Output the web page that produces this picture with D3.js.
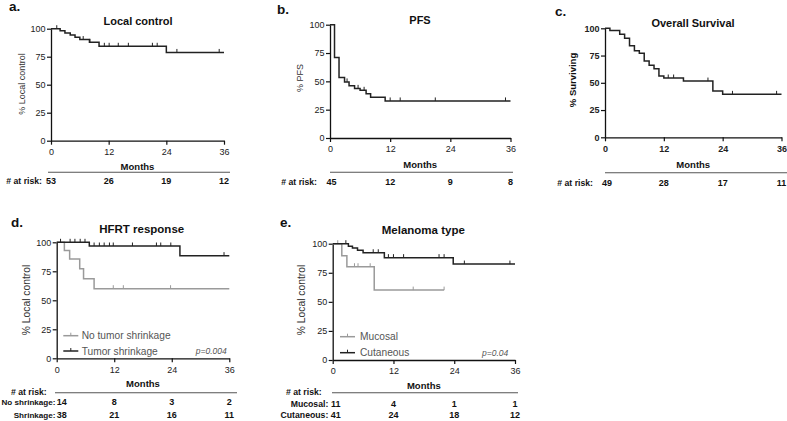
<!DOCTYPE html>
<html><head><meta charset="utf-8">
<script src="https://cdn.jsdelivr.net/npm/d3@7"></script>
<style>
body{margin:0;background:#fff;}
svg{display:block;font-family:"Liberation Sans",Arial,sans-serif;}
</style></head><body>
<svg id="chart" width="787" height="421"></svg>
<script>
// ---------- data ----------
const monthTicks = [0, 12, 24, 36];
const pctTicks = [0, 25, 50, 75, 100];

// a. Local control
const aTimes = [0, 1.9, 2.9, 4, 5, 6, 8, 10, 24];
const aSurv  = [100, 98.1, 96.2, 94.3, 92.4, 90.3, 87.8, 84.3, 78.8];
const aCens  = [1.2, 6.7, 8.1, 11.1, 12.1, 14, 16.1, 21.1, 22.1, 26.2, 35];
const aRisk  = [53, 26, 19, 12];

// b. PFS
const bTimes = [0, 0.9, 1.8, 2.9, 3.8, 4.9, 6, 7.2, 8.1, 11];
const bSurv  = [100, 71, 53.5, 49.5, 46.2, 43.8, 42.1, 39, 35.9, 32.7];
const bCens  = [3.4, 5.6, 6.8, 12, 14, 21, 35];
const bRisk  = [45, 12, 9, 8];

// c. Overall Survival
const cTimes = [0, 1, 3, 4, 5, 6, 7, 8, 9, 10, 11, 12, 16, 22, 24];
const cSurv  = [100, 98, 94.5, 90.8, 84, 79.4, 77, 70, 66, 63, 56.2, 54.4, 51.6, 42.5, 39.4];
const cCens  = [12.9, 14, 21, 26, 35];
const cRisk  = [49, 28, 17, 11];

// d. HFRT response
const dShrTimes = [0, 6.8, 25.7];
const dShrSurv  = [100, 96.8, 88.5];
const dShrCens  = [0.8, 2.8, 3.8, 4.9, 5.9, 7.8, 8.9, 9.9, 11, 11.8, 15.8, 20.8, 21.7, 23.8, 34.9];
const dNoTimes  = [0, 1.6, 2.7, 4.8, 5.6, 7.8];
const dNoSurv   = [100, 92.9, 85.7, 77.1, 68.6, 60];
const dNoCens   = [11.8, 13.9, 23.75];
const dNoRisk   = [14, 8, 3, 2];
const dShrRisk  = [38, 21, 16, 11];

// e. Melanoma type
const eCutTimes = [0, 3.1, 3.9, 4.9, 6, 10.2, 23.8];
const eCutSurv  = [100, 97.8, 96.4, 94.4, 92.2, 88, 82.5];
const eCutCens  = [2.6, 8, 9, 11, 12, 14, 21, 22, 26, 35];
const eMucTimes = [0, 1.8, 2.8, 8.2];
const eMucSurv  = [100, 89.6, 80.2, 60.1];
const eMucCens  = [1, 4.3, 5, 7.4, 15.9, 22];
const eMucRisk  = [11, 4, 1, 1];
const eCutRisk  = [41, 24, 18, 12];

// ---------- drawing ----------
const BLACK = "#222", GRAY = "#9a9a9a", TXT = "#222";
const svg = d3.select("#chart");

const panels = [
  {label:"a.", lx:9, ly:11, title:"Local control", tx:138, ty:25, ts:11,
   x0:51, x1:224, yT:28.7, yB:140.7, ylab:"% Local control", ylx:21.7, yly:84, yls:9, ylb:false, tb:false,
   monthsY:169.5, lineY:172.3, lineX:[48,230], rlX:42, rlY:184.3, firstOff:0, rowLabelX:null,
   rows:[{label:null, values:aRisk, y:184.3}],
   series:[{times:aTimes, surv:aSurv, cens:aCens, end:36, color:BLACK}]},
  {label:"b.", lx:277, ly:14, title:"PFS", tx:420, ty:24, ts:11,
   x0:330, x1:510.5, yT:24.7, yB:138, ylab:"% PFS", ylx:300, yly:78, yls:9, ylb:false, tb:false,
   monthsY:167.5, lineY:172.3, lineX:[330,513], rlX:317, rlY:185, firstOff:1.5, rowLabelX:null,
   rows:[{label:null, values:bRisk, y:185}],
   series:[{times:bTimes, surv:bSurv, cens:bCens, end:36, color:BLACK}]},
  {label:"c.", lx:555, ly:16, title:"Overall Survival", tx:693, ty:27, ts:11,
   x0:605, x1:781.5, yT:28.3, yB:137.3, ylab:"% Surviving", ylx:573, yly:80, yls:9.5, ylb:true, tb:true,
   monthsY:167.5, lineY:172.7, lineX:[605,787], rlX:593, rlY:185.6, firstOff:2, rowLabelX:null,
   rows:[{label:null, values:cRisk, y:185.6}],
   series:[{times:cTimes, surv:cSurv, cens:cCens, end:36, color:BLACK}]},
  {label:"d.", lx:11, ly:227, title:"HFRT response", tx:141.7, ty:232.5, ts:11.5,
   x0:56.7, x1:229.3, yT:242.3, yB:358.3, ylab:"% Local control", ylx:26.7, yly:300, yls:10.3, ylb:false, tb:false,
   monthsY:386.7, lineY:392.7, lineX:[55,237], rlX:46.7, rlY:395, firstOff:5, rowLabelX:55.5, rowSize:8.1,
   rows:[{label:"No shrinkage:", values:dNoRisk, y:405},{label:"Shrinkage:", values:dShrRisk, y:418.3}],
   series:[{times:dNoTimes, surv:dNoSurv, cens:dNoCens, end:36, color:GRAY},
           {times:dShrTimes, surv:dShrSurv, cens:dShrCens, end:36, color:BLACK}],
   legend:{lx:[63.3,78.3], tx:81.7, items:[{text:"No tumor shrinkage", color:GRAY, y:335.7},{text:"Tumor shrinkage", color:BLACK, y:351}]},
   p:{text:"p=0.004", x:226.7, y:351}},
  {label:"e.", lx:280, ly:227, title:"Melanoma type", tx:423.3, ty:234, ts:11.5,
   x0:332.7, x1:515, yT:243.7, yB:360, ylab:"% Local control", ylx:301.7, yly:300, yls:10.3, ylb:false, tb:false,
   monthsY:389, lineY:392.7, lineX:[332,518], rlX:321.7, rlY:395, firstOff:3, rowLabelX:328.3, rowSize:8.7,
   rows:[{label:"Mucosal:", values:eMucRisk, y:406.6},{label:"Cutaneous:", values:eCutRisk, y:418.3}],
   series:[{times:eMucTimes, surv:eMucSurv, cens:eMucCens, end:22, color:GRAY},
           {times:eCutTimes, surv:eCutSurv, cens:eCutCens, end:36, color:BLACK}],
   legend:{lx:[340,355], tx:360, items:[{text:"Mucosal", color:GRAY, y:336.7},{text:"Cutaneous", color:BLACK, y:352.7}]},
   p:{text:"p=0.04", x:508.3, y:352.7}}
];

function survAt(times, surv, t){
  let v = surv[0];
  for (let i=0;i<times.length;i++){ if (times[i] <= t) v = surv[i]; }
  return v;
}

panels.forEach(P => {
  const g = svg.append("g");
  const x = d3.scaleLinear().domain([0,36]).range([P.x0, P.x1]);
  const y = d3.scaleLinear().domain([0,100]).range([P.yB, P.yT]);

  // panel letter
  g.append("text").attr("x",P.lx).attr("y",P.ly).attr("font-size",13.5).attr("font-weight","bold").attr("fill","#111").text(P.label);
  // title
  g.append("text").attr("x",P.tx).attr("y",P.ty).attr("text-anchor","middle").attr("font-size",P.ts).attr("font-weight","bold").attr("fill","#111").text(P.title);

  // axes
  const xa = g.append("g").attr("transform",`translate(0,${P.yB})`)
    .call(d3.axisBottom(x).tickValues(monthTicks).tickSize(4).tickPadding(4).tickSizeOuter(0));
  const ya = g.append("g").attr("transform",`translate(${P.x0},0)`)
    .call(d3.axisLeft(y).tickValues(pctTicks).tickSize(4).tickPadding(1.5).tickSizeOuter(0));
  [xa, ya].forEach(a => {
    a.select(".domain").attr("stroke","#111").attr("stroke-width",1.3);
    a.selectAll(".tick line").attr("stroke","#111").attr("stroke-width",1.2);
    a.selectAll(".tick text").attr("font-size",9).attr("fill",TXT).attr("font-weight",P.tb?"bold":"normal")
      .attr("font-family","Liberation Sans, Arial, sans-serif");
  });

  // y label
  g.append("text").attr("transform",`translate(${P.ylx},${P.yly}) rotate(-90)`)
    .attr("text-anchor","middle").attr("dy","0.35em").attr("font-size",P.yls)
    .attr("font-weight",P.ylb?"bold":"normal").attr("fill",P.ylb?"#111":"#333").text(P.ylab);

  // Months
  g.append("text").attr("x",(P.x0+P.x1)/2).attr("y",P.monthsY).attr("text-anchor","middle")
    .attr("font-size",9.5).attr("font-weight","bold").attr("fill","#111").text("Months");
  // risk line
  g.append("line").attr("x1",P.lineX[0]).attr("x2",P.lineX[1]).attr("y1",P.lineY).attr("y2",P.lineY)
    .attr("stroke","#555").attr("stroke-width",1.1);
  g.append("text").attr("x",P.rlX).attr("y",P.rlY).attr("text-anchor","end")
    .attr("font-size",8.7).attr("font-weight","bold").attr("fill","#111").text("# at risk:");
  P.rows.forEach(r => {
    if (r.label) g.append("text").attr("x",P.rowLabelX).attr("y",r.y).attr("text-anchor","end")
      .attr("font-size",P.rowSize).attr("font-weight","bold").attr("fill","#111").text(r.label);
    g.selectAll(null).data(r.values).enter().append("text")
      .attr("x",(d,i)=>x(monthTicks[i]) + (i===0?P.firstOff:0)).attr("y",r.y).attr("text-anchor","middle")
      .attr("font-size",9).attr("font-weight","bold").attr("fill","#111").text(d=>d);
  });

  // curves
  const line = d3.line().x(d=>x(d[0])).y(d=>y(d[1])).curve(d3.curveStepAfter);
  P.series.forEach(s => {
    const pts = s.times.map((t,i)=>[t, s.surv[i]]);
    pts.push([s.end, s.surv[s.surv.length-1]]);
    g.append("path").attr("d",line(pts)).attr("fill","none").attr("stroke",s.color).attr("stroke-width",1.5);
    g.selectAll(null).data(s.cens).enter().append("line")
      .attr("x1",d=>x(d)).attr("x2",d=>x(d))
      .attr("y1",d=>y(survAt(s.times,s.surv,d))).attr("y2",d=>y(survAt(s.times,s.surv,d))-3.5)
      .attr("stroke",s.color).attr("stroke-width",1);
  });

  // legend
  if (P.legend){
    P.legend.items.forEach(it => {
      g.append("line").attr("x1",P.legend.lx[0]).attr("x2",P.legend.lx[1]).attr("y1",it.y).attr("y2",it.y)
        .attr("stroke",it.color).attr("stroke-width",1.5);
      const mx = (P.legend.lx[0]+P.legend.lx[1])/2;
      g.append("line").attr("x1",mx).attr("x2",mx).attr("y1",it.y).attr("y2",it.y-3)
        .attr("stroke",it.color).attr("stroke-width",1);
      g.append("text").attr("x",P.legend.tx).attr("y",it.y).attr("dy","0.35em")
        .attr("font-size",10.2).attr("fill","#555").text(it.text);
    });
  }
  if (P.p){
    g.append("text").attr("x",P.p.x).attr("y",P.p.y).attr("dy","0.35em").attr("text-anchor","end")
      .attr("font-size",8.5).attr("font-style","italic").attr("fill","#555").text(P.p.text);
  }
});
</script>
</body></html>
